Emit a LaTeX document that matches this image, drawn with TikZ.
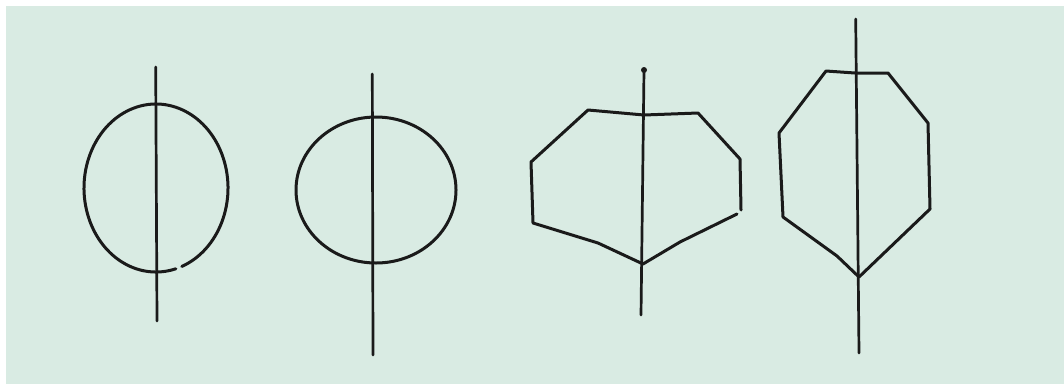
\documentclass[tikz,border=0pt]{standalone}
\definecolor{bg}{RGB}{217,235,227}
\definecolor{ink}{RGB}{26,26,26}
\begin{document}
\begin{tikzpicture}[x=1pt,y=1pt,
  ink line/.style={draw=ink,line width=3pt,line cap=round,line join=round},
  axis line/.style={draw=ink,line width=2.7pt,line cap=round}]
\useasboundingbox (0,0) rectangle (1064,-384);
\fill[white] (0,0) rectangle (1064,-384);
\fill[bg] (6,-6) rectangle (1064,-384);
% figure 1: ellipse with axis
\draw[axis line] (155.7,-67) -- (157,-321);
\draw[ink line] ([shift={(-69:72pt and 84pt)}]156,-188) arc[start angle=-69, end angle=286, x radius=72pt, y radius=84pt];
% figure 2: circle with axis
\draw[axis line] (372.3,-74) -- (373,-355);
\draw[ink line] (376,-190) ellipse[x radius=80pt, y radius=73pt];
% figure 3: flattened polygon with axis
\draw[axis line] (644,-70) -- (641,-315);
\fill[ink] (644,-70) circle (3pt);
\draw[ink line] (741,-210) -- (740,-159) -- (698,-113) -- (644,-115) -- (588,-110)
  -- (531,-162) -- (533,-223) -- (598,-243) -- (643,-264) -- (680,-242) -- (737,-214);
% figure 4: tall polygon with axis
\draw[axis line] (855.7,-19) -- (859,-353);
\draw[ink line] (826,-71) -- (855,-73) -- (888,-73) -- (928,-123) -- (930,-209)
  -- (859,-277) -- (837,-256) -- (783,-217) -- (779,-133) -- cycle;
\end{tikzpicture}
\end{document}
